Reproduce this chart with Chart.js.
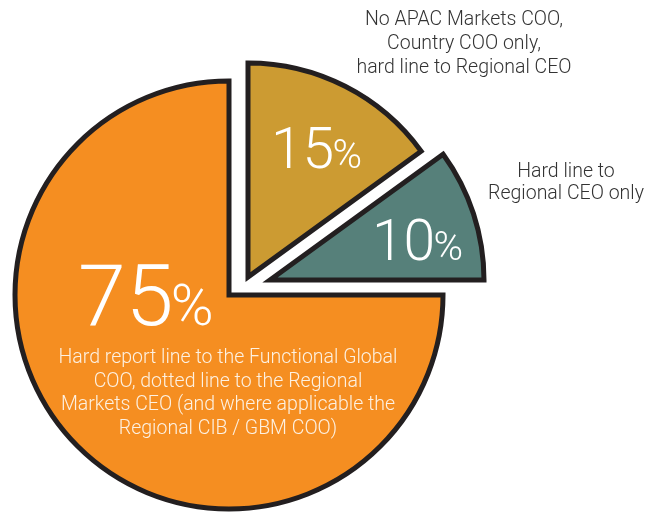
<!DOCTYPE html>
<html>
<head>
<meta charset="utf-8">
<script src="https://cdn.jsdelivr.net/npm/chart.js@4.4.1/dist/chart.umd.min.js"></script>
<style>
  html, body { margin: 0; padding: 0; background: #fff; }
  #wrap { width: 649px; height: 512px; position: relative; }
</style>
</head>
<body>
<div id="wrap"><canvas id="c"></canvas></div>
<script>
// ---- data: share of COOs by reporting line (clockwise from 12 o'clock)
const LABELS = ["No APAC Markets COO, Country COO only, hard line to Regional CEO",
                "Hard line to Regional CEO only",
                "Hard report line to the Functional Global COO, dotted line to the Regional Markets CEO (and where applicable the Regional CIB / GBM COO)"];
const SHARES = [15, 10, 75];
const COLORS = ["#cc9b32", "#56807a", "#f58e21"];

// wrapped caption lines (outside callouts + the one inside the big slice)
const CAPTION_LINES = [
  ["No APAC Markets COO,", "Country COO only,", "hard line to Regional CEO"],
  ["Hard line to", "Regional CEO only"],
  ["Hard report line to the Functional Global", "COO, dotted line to the Regional",
   "Markets CEO (and where applicable the", "Regional CIB / GBM COO)"],
];

// exploded look: each slice pulled out by its own vector (not purely radial in the original)
const PULL = [[19, -18], [41, -15], [0, 0]];

const FONT = "Roboto, 'Helvetica Neue', 'Liberation Sans', sans-serif";

const pullPlugin = {
  id: "pull",
  afterDatasetsUpdate(chart) {
    chart.getDatasetMeta(0).data.forEach((arc, i) => {
      arc.x += PULL[i][0]; arc.y += PULL[i][1];
    });
  },
};

const labelPlugin = {
  id: "labels",
  afterDraw(chart) {
    const ctx = chart.ctx;
    const arcs = chart.getDatasetMeta(0).data;
    ctx.save();
    // big percentage figures: digits large, % sign smaller, shared baseline
    const pct = (i, dx, dy, big, small) => {
      const a = arcs[i];
      ctx.fillStyle = "#ffffff";
      ctx.textAlign = "left"; ctx.textBaseline = "alphabetic";
      ctx.font = `300 ${big}px ${FONT}`;
      const s = String(SHARES[i]);
      ctx.fillText(s, a.x + dx, a.y + dy);
      const w = ctx.measureText(s).width;
      ctx.font = `300 ${small}px ${FONT}`;
      ctx.fillText("%", a.x + dx + w - big * 0.03, a.y + dy);
    };
    pct(0, 23, -109, 57, 40);
    pct(1, 102, -20, 57, 40);
    pct(2, -151, 30, 86, 58);

    const block = (lines, cx, y0, lh, size, color) => {
      ctx.fillStyle = color; ctx.textAlign = "center"; ctx.textBaseline = "alphabetic";
      ctx.font = `300 ${size}px ${FONT}`;
      lines.forEach((l, k) => ctx.fillText(l, cx, y0 + k * lh));
    };
    const o = arcs[2];
    block(CAPTION_LINES[0], o.x + 235, o.y - 270, 24, 19.5, "#333333");
    block(CAPTION_LINES[1], o.x + 337, o.y - 118, 22, 19.5, "#333333");
    block(CAPTION_LINES[2], o.x - 1, o.y + 68, 23.7, 19.5, "#fdf1e2");
    ctx.restore();
  },
};

new Chart(document.getElementById("c"), {
  type: "pie",
  data: {
    labels: LABELS,
    datasets: [{
      data: SHARES,
      backgroundColor: COLORS,
      borderColor: "#231f20",
      borderWidth: 5,
      borderJoinStyle: "miter",
    }],
  },
  options: {
    responsive: true, maintainAspectRatio: false,
    animation: false,
    radius: 214,
    layout: { padding: { left: 0, right: 191, top: 78, bottom: 0 } },
    plugins: { legend: { display: false }, tooltip: { enabled: false } },
    events: [],
  },
  plugins: [pullPlugin, labelPlugin],
});
</script>
</body>
</html>
